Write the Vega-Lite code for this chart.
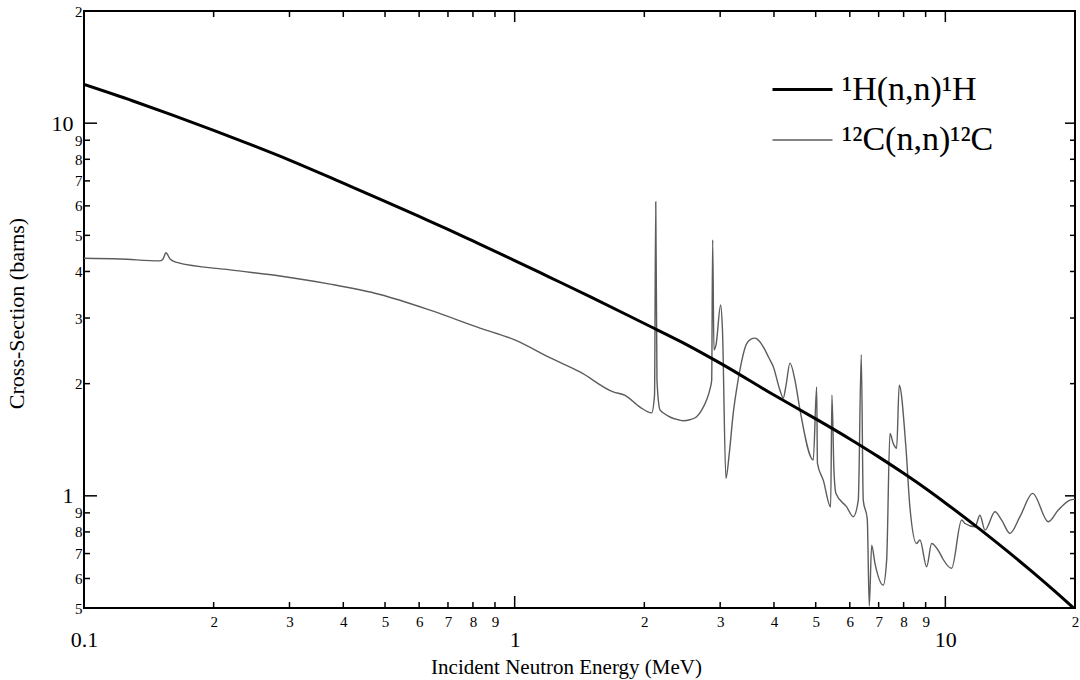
{
  "$schema": "https://vega.github.io/schema/vega-lite/v6.json",
  "width": 991,
  "height": 597,
  "autosize": {"type": "none"},
  "padding": {"left": 84, "top": 11, "right": 5, "bottom": 72},
  "background": "white",
  "config": {
    "font": "Liberation Serif",
    "view": {"stroke": "black", "strokeWidth": 2},
    "axis": {
      "grid": false,
      "domain": false,
      "ticks": false,
      "labelColor": "black",
      "titleColor": "black",
      "labelFont": "Liberation Serif",
      "titleFont": "Liberation Serif",
      "labelFlush": false,
      "labelOverlap": false,
      "labelBound": false
    }
  },
  "datasets": {
    "curves": [
      {"r": "¹²C(n,n)¹²C", "E": 0.1, "s": 4.34},
      {"r": "¹²C(n,n)¹²C", "E": 0.1212, "s": 4.32},
      {"r": "¹²C(n,n)¹²C", "E": 0.1502, "s": 4.27},
      {"r": "¹²C(n,n)¹²C", "E": 0.1526, "s": 4.32},
      {"r": "¹²C(n,n)¹²C", "E": 0.155, "s": 4.49},
      {"r": "¹²C(n,n)¹²C", "E": 0.1584, "s": 4.32},
      {"r": "¹²C(n,n)¹²C", "E": 0.1642, "s": 4.23},
      {"r": "¹²C(n,n)¹²C", "E": 0.2183, "s": 4.04},
      {"r": "¹²C(n,n)¹²C", "E": 0.2852, "s": 3.89},
      {"r": "¹²C(n,n)¹²C", "E": 0.3726, "s": 3.7},
      {"r": "¹²C(n,n)¹²C", "E": 0.4867, "s": 3.47},
      {"r": "¹²C(n,n)¹²C", "E": 0.636, "s": 3.15},
      {"r": "¹²C(n,n)¹²C", "E": 0.8306, "s": 2.82},
      {"r": "¹²C(n,n)¹²C", "E": 1.0, "s": 2.62},
      {"r": "¹²C(n,n)¹²C", "E": 1.214, "s": 2.34},
      {"r": "¹²C(n,n)¹²C", "E": 1.418, "s": 2.15},
      {"r": "¹²C(n,n)¹²C", "E": 1.694, "s": 1.9},
      {"r": "¹²C(n,n)¹²C", "E": 1.804, "s": 1.86},
      {"r": "¹²C(n,n)¹²C", "E": 1.954, "s": 1.73},
      {"r": "¹²C(n,n)¹²C", "E": 2.08, "s": 1.67},
      {"r": "¹²C(n,n)¹²C", "E": 2.112, "s": 1.86},
      {"r": "¹²C(n,n)¹²C", "E": 2.126, "s": 6.15},
      {"r": "¹²C(n,n)¹²C", "E": 2.14, "s": 2.04},
      {"r": "¹²C(n,n)¹²C", "E": 2.175, "s": 1.7},
      {"r": "¹²C(n,n)¹²C", "E": 2.22, "s": 1.665},
      {"r": "¹²C(n,n)¹²C", "E": 2.3, "s": 1.625},
      {"r": "¹²C(n,n)¹²C", "E": 2.4, "s": 1.6},
      {"r": "¹²C(n,n)¹²C", "E": 2.463, "s": 1.59},
      {"r": "¹²C(n,n)¹²C", "E": 2.55, "s": 1.6},
      {"r": "¹²C(n,n)¹²C", "E": 2.646, "s": 1.63},
      {"r": "¹²C(n,n)¹²C", "E": 2.72, "s": 1.7},
      {"r": "¹²C(n,n)¹²C", "E": 2.791, "s": 1.81},
      {"r": "¹²C(n,n)¹²C", "E": 2.84, "s": 1.93},
      {"r": "¹²C(n,n)¹²C", "E": 2.867, "s": 2.04},
      {"r": "¹²C(n,n)¹²C", "E": 2.882, "s": 4.86},
      {"r": "¹²C(n,n)¹²C", "E": 2.902, "s": 2.46},
      {"r": "¹²C(n,n)¹²C", "E": 2.934, "s": 2.54},
      {"r": "¹²C(n,n)¹²C", "E": 3.008, "s": 3.25},
      {"r": "¹²C(n,n)¹²C", "E": 3.037, "s": 2.79},
      {"r": "¹²C(n,n)¹²C", "E": 3.094, "s": 1.114},
      {"r": "¹²C(n,n)¹²C", "E": 3.15, "s": 1.3},
      {"r": "¹²C(n,n)¹²C", "E": 3.217, "s": 1.664},
      {"r": "¹²C(n,n)¹²C", "E": 3.28, "s": 1.95},
      {"r": "¹²C(n,n)¹²C", "E": 3.335, "s": 2.18},
      {"r": "¹²C(n,n)¹²C", "E": 3.444, "s": 2.54},
      {"r": "¹²C(n,n)¹²C", "E": 3.53, "s": 2.63},
      {"r": "¹²C(n,n)¹²C", "E": 3.614, "s": 2.65},
      {"r": "¹²C(n,n)¹²C", "E": 3.7, "s": 2.6},
      {"r": "¹²C(n,n)¹²C", "E": 3.793, "s": 2.49},
      {"r": "¹²C(n,n)¹²C", "E": 3.89, "s": 2.35},
      {"r": "¹²C(n,n)¹²C", "E": 3.986, "s": 2.22},
      {"r": "¹²C(n,n)¹²C", "E": 4.13, "s": 1.92},
      {"r": "¹²C(n,n)¹²C", "E": 4.204, "s": 1.83},
      {"r": "¹²C(n,n)¹²C", "E": 4.266, "s": 1.98},
      {"r": "¹²C(n,n)¹²C", "E": 4.358, "s": 2.27},
      {"r": "¹²C(n,n)¹²C", "E": 4.476, "s": 2.04},
      {"r": "¹²C(n,n)¹²C", "E": 4.597, "s": 1.7},
      {"r": "¹²C(n,n)¹²C", "E": 4.935, "s": 1.248},
      {"r": "¹²C(n,n)¹²C", "E": 5.025, "s": 1.96},
      {"r": "¹²C(n,n)¹²C", "E": 5.047, "s": 1.222},
      {"r": "¹²C(n,n)¹²C", "E": 5.206, "s": 1.102},
      {"r": "¹²C(n,n)¹²C", "E": 5.416, "s": 0.934},
      {"r": "¹²C(n,n)¹²C", "E": 5.453, "s": 1.864},
      {"r": "¹²C(n,n)¹²C", "E": 5.512, "s": 1.172},
      {"r": "¹²C(n,n)¹²C", "E": 5.572, "s": 1.015},
      {"r": "¹²C(n,n)¹²C", "E": 5.9, "s": 0.934},
      {"r": "¹²C(n,n)¹²C", "E": 6.112, "s": 0.879},
      {"r": "¹²C(n,n)¹²C", "E": 6.278, "s": 0.974},
      {"r": "¹²C(n,n)¹²C", "E": 6.379, "s": 2.39},
      {"r": "¹²C(n,n)¹²C", "E": 6.447, "s": 0.974},
      {"r": "¹²C(n,n)¹²C", "E": 6.587, "s": 0.866},
      {"r": "¹²C(n,n)¹²C", "E": 6.658, "s": 0.506},
      {"r": "¹²C(n,n)¹²C", "E": 6.744, "s": 0.737},
      {"r": "¹²C(n,n)¹²C", "E": 6.864, "s": 0.659},
      {"r": "¹²C(n,n)¹²C", "E": 7.175, "s": 0.576},
      {"r": "¹²C(n,n)¹²C", "E": 7.306, "s": 0.672},
      {"r": "¹²C(n,n)¹²C", "E": 7.437, "s": 1.47},
      {"r": "¹²C(n,n)¹²C", "E": 7.568, "s": 1.383},
      {"r": "¹²C(n,n)¹²C", "E": 7.707, "s": 1.342},
      {"r": "¹²C(n,n)¹²C", "E": 7.814, "s": 1.98},
      {"r": "¹²C(n,n)¹²C", "E": 8.097, "s": 1.354},
      {"r": "¹²C(n,n)¹²C", "E": 8.273, "s": 0.934},
      {"r": "¹²C(n,n)¹²C", "E": 8.573, "s": 0.745},
      {"r": "¹²C(n,n)¹²C", "E": 8.73, "s": 0.761},
      {"r": "¹²C(n,n)¹²C", "E": 9.048, "s": 0.645},
      {"r": "¹²C(n,n)¹²C", "E": 9.294, "s": 0.745},
      {"r": "¹²C(n,n)¹²C", "E": 9.716, "s": 0.701},
      {"r": "¹²C(n,n)¹²C", "E": 9.857, "s": 0.679},
      {"r": "¹²C(n,n)¹²C", "E": 10.34, "s": 0.639},
      {"r": "¹²C(n,n)¹²C", "E": 10.91, "s": 0.861},
      {"r": "¹²C(n,n)¹²C", "E": 11.11, "s": 0.843},
      {"r": "¹²C(n,n)¹²C", "E": 11.72, "s": 0.826},
      {"r": "¹²C(n,n)¹²C", "E": 12.03, "s": 0.887},
      {"r": "¹²C(n,n)¹²C", "E": 12.36, "s": 0.809},
      {"r": "¹²C(n,n)¹²C", "E": 13.04, "s": 0.906},
      {"r": "¹²C(n,n)¹²C", "E": 13.51, "s": 0.861},
      {"r": "¹²C(n,n)¹²C", "E": 14.13, "s": 0.793},
      {"r": "¹²C(n,n)¹²C", "E": 14.9, "s": 0.879},
      {"r": "¹²C(n,n)¹²C", "E": 15.95, "s": 1.015},
      {"r": "¹²C(n,n)¹²C", "E": 17.34, "s": 0.852},
      {"r": "¹²C(n,n)¹²C", "E": 18.29, "s": 0.916},
      {"r": "¹²C(n,n)¹²C", "E": 19.47, "s": 0.974},
      {"r": "¹²C(n,n)¹²C", "E": 20.0, "s": 0.98},
      {"r": "¹H(n,n)¹H", "E": 0.1, "s": 12.7},
      {"r": "¹H(n,n)¹H", "E": 0.13, "s": 11.47},
      {"r": "¹H(n,n)¹H", "E": 0.16, "s": 10.53},
      {"r": "¹H(n,n)¹H", "E": 0.2, "s": 9.57},
      {"r": "¹H(n,n)¹H", "E": 0.25, "s": 8.66},
      {"r": "¹H(n,n)¹H", "E": 0.3, "s": 7.96},
      {"r": "¹H(n,n)¹H", "E": 0.4, "s": 6.9},
      {"r": "¹H(n,n)¹H", "E": 0.5, "s": 6.17},
      {"r": "¹H(n,n)¹H", "E": 0.6, "s": 5.62},
      {"r": "¹H(n,n)¹H", "E": 0.7, "s": 5.19},
      {"r": "¹H(n,n)¹H", "E": 0.8, "s": 4.83},
      {"r": "¹H(n,n)¹H", "E": 1.0, "s": 4.28},
      {"r": "¹H(n,n)¹H", "E": 1.2, "s": 3.87},
      {"r": "¹H(n,n)¹H", "E": 1.5, "s": 3.42},
      {"r": "¹H(n,n)¹H", "E": 2.0, "s": 2.9},
      {"r": "¹H(n,n)¹H", "E": 2.5, "s": 2.55},
      {"r": "¹H(n,n)¹H", "E": 3.0, "s": 2.27},
      {"r": "¹H(n,n)¹H", "E": 4.0, "s": 1.864},
      {"r": "¹H(n,n)¹H", "E": 5.0, "s": 1.609},
      {"r": "¹H(n,n)¹H", "E": 6.0, "s": 1.421},
      {"r": "¹H(n,n)¹H", "E": 7.0, "s": 1.272},
      {"r": "¹H(n,n)¹H", "E": 8.0, "s": 1.149},
      {"r": "¹H(n,n)¹H", "E": 9.0, "s": 1.046},
      {"r": "¹H(n,n)¹H", "E": 10.0, "s": 0.957},
      {"r": "¹H(n,n)¹H", "E": 12.0, "s": 0.815},
      {"r": "¹H(n,n)¹H", "E": 14.0, "s": 0.707},
      {"r": "¹H(n,n)¹H", "E": 16.0, "s": 0.622},
      {"r": "¹H(n,n)¹H", "E": 18.0, "s": 0.553},
      {"r": "¹H(n,n)¹H", "E": 20.0, "s": 0.496}
    ],
    "energyMinor": [
      {"E": 0.2}, {"E": 0.3}, {"E": 0.4}, {"E": 0.5}, {"E": 0.6}, {"E": 0.7}, {"E": 0.8}, {"E": 0.9},
      {"E": 2}, {"E": 3}, {"E": 4}, {"E": 5}, {"E": 6}, {"E": 7}, {"E": 8}, {"E": 9}
    ],
    "energyMajor": [{"E": 1}, {"E": 10}],
    "sigmaMinor": [
      {"s": 0.6}, {"s": 0.7}, {"s": 0.8}, {"s": 0.9},
      {"s": 2}, {"s": 3}, {"s": 4}, {"s": 5}, {"s": 6}, {"s": 7}, {"s": 8}, {"s": 9}
    ],
    "sigmaMajor": [{"s": 1}, {"s": 10}]
  },
  "layer": [
    {
      "data": {"name": "curves"},
      "mark": {"type": "line", "clip": true, "interpolate": "monotone"},
      "encoding": {
        "x": {
          "field": "E",
          "type": "quantitative",
          "scale": {"type": "log", "domain": [0.1, 20], "nice": false},
          "axis": {
            "orient": "bottom",
            "values": [0.1, 0.2, 0.3, 0.4, 0.5, 0.6, 0.7, 0.8, 0.9, 1, 2, 3, 4, 5, 6, 7, 8, 9, 10, 20],
            "labelExpr": "datum.value == 0.1 ? '0.1' : datum.value == 1 ? '1' : datum.value == 10 ? '10' : datum.value > 10 ? '2' : datum.value < 1 ? format(datum.value * 10, '.0f') : format(datum.value, '.0f')",
            "labelFontSize": {"condition": {"test": "datum.value == 0.1 || datum.value == 1 || datum.value == 10", "value": 22}, "value": 15},
            "labelPadding": {"condition": {"test": "datum.value == 0.1 || datum.value == 1 || datum.value == 10", "value": 21}, "value": 6},
            "title": "Incident Neutron Energy (MeV)",
            "titleFontSize": 21,
            "titleFontWeight": "normal",
            "titleX": 482,
            "titleY": 48
          }
        },
        "y": {
          "field": "s",
          "type": "quantitative",
          "scale": {"type": "log", "domain": [0.5, 20], "nice": false},
          "axis": {
            "orient": "left",
            "values": [0.5, 0.6, 0.7, 0.8, 0.9, 1, 2, 3, 4, 5, 6, 7, 8, 9, 10, 20],
            "labelExpr": "datum.value == 1 ? '1' : datum.value == 10 ? '10' : datum.value > 10 ? '2' : datum.value < 1 ? format(datum.value * 10, '.0f') : format(datum.value, '.0f')",
            "labelFontSize": {"condition": {"test": "datum.value == 1 || datum.value == 10", "value": 22}, "value": 15},
            "labelPadding": {"condition": {"test": "datum.value == 1 || datum.value == 10", "value": 11}, "value": 2},
            "title": "Cross-Section (barns)",
            "titleFontSize": 22,
            "titleFontWeight": "normal",
            "titleX": -56,
            "titleY": 302
          }
        },
        "color": {
          "field": "r",
          "type": "nominal",
          "scale": {"domain": ["¹H(n,n)¹H", "¹²C(n,n)¹²C"], "range": ["#000000", "#5c5c5c"]},
          "legend": {
            "title": null,
            "orient": "none",
            "legendX": 687,
            "legendY": 47,
            "symbolType": "stroke",
            "symbolSize": 3600,
            "labelFontSize": 34,
            "labelFont": "Liberation Serif",
            "labelColor": "black",
            "labelOffset": 8,
            "rowPadding": 2,
            "padding": 0,
            "labelLimit": 400
          }
        },
        "strokeWidth": {
          "field": "r",
          "type": "nominal",
          "scale": {"domain": ["¹H(n,n)¹H", "¹²C(n,n)¹²C"], "range": [3, 1.4]},
          "legend": {
            "title": null,
            "orient": "none",
            "legendX": 687,
            "legendY": 47,
            "symbolType": "stroke",
            "symbolSize": 3600,
            "labelFontSize": 34,
            "labelFont": "Liberation Serif",
            "labelColor": "black",
            "labelOffset": 8,
            "rowPadding": 2,
            "padding": 0,
            "labelLimit": 400
          }
        }
      }
    },
    {
      "data": {"name": "energyMinor"},
      "mark": {"type": "point", "shape": "M0,0V-2", "size": 36, "filled": false, "stroke": "#000000", "strokeWidth": 1.5, "opacity": 1},
      "encoding": {"x": {"field": "E", "type": "quantitative"}, "y": {"datum": 0.5, "type": "quantitative"}}
    },
    {
      "data": {"name": "energyMajor"},
      "mark": {"type": "point", "shape": "M0,0V-2", "size": 144, "filled": false, "stroke": "#000000", "strokeWidth": 1.5, "opacity": 1},
      "encoding": {"x": {"field": "E", "type": "quantitative"}, "y": {"datum": 0.5, "type": "quantitative"}}
    },
    {
      "data": {"name": "energyMinor"},
      "mark": {"type": "point", "shape": "M0,0V2", "size": 36, "filled": false, "stroke": "#000000", "strokeWidth": 1.5, "opacity": 1},
      "encoding": {"x": {"field": "E", "type": "quantitative"}, "y": {"datum": 20, "type": "quantitative"}}
    },
    {
      "data": {"name": "energyMajor"},
      "mark": {"type": "point", "shape": "M0,0V2", "size": 121, "filled": false, "stroke": "#000000", "strokeWidth": 1.5, "opacity": 1},
      "encoding": {"x": {"field": "E", "type": "quantitative"}, "y": {"datum": 20, "type": "quantitative"}}
    },
    {
      "data": {"name": "sigmaMinor"},
      "mark": {"type": "point", "shape": "M0,0H2", "size": 36, "filled": false, "stroke": "#000000", "strokeWidth": 1.5, "opacity": 1},
      "encoding": {"y": {"field": "s", "type": "quantitative"}, "x": {"datum": 0.1, "type": "quantitative"}}
    },
    {
      "data": {"name": "sigmaMajor"},
      "mark": {"type": "point", "shape": "M0,0H2", "size": 169, "filled": false, "stroke": "#000000", "strokeWidth": 1.5, "opacity": 1},
      "encoding": {"y": {"field": "s", "type": "quantitative"}, "x": {"datum": 0.1, "type": "quantitative"}}
    },
    {
      "data": {"name": "sigmaMinor"},
      "mark": {"type": "point", "shape": "M0,0H-2", "size": 25, "filled": false, "stroke": "#000000", "strokeWidth": 1.5, "opacity": 1},
      "encoding": {"y": {"field": "s", "type": "quantitative"}, "x": {"datum": 20, "type": "quantitative"}}
    },
    {
      "data": {"name": "sigmaMajor"},
      "mark": {"type": "point", "shape": "M0,0H-2", "size": 100, "filled": false, "stroke": "#000000", "strokeWidth": 1.5, "opacity": 1},
      "encoding": {"y": {"field": "s", "type": "quantitative"}, "x": {"datum": 20, "type": "quantitative"}}
    }
  ]
}
